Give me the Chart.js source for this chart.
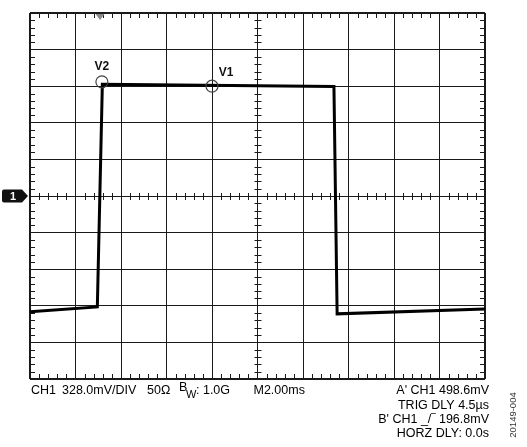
<!DOCTYPE html>
<html>
<head>
<meta charset="utf-8">
<script src="https://cdn.jsdelivr.net/npm/chart.js@4/dist/chart.umd.min.js"></script>
<style>
  html, body { margin: 0; padding: 0; background: #ffffff; }
  #wrap { width: 527px; height: 447px; position: relative; }
</style>
</head>
<body>
<div id="wrap"><canvas id="c" width="527" height="447"></canvas></div>
<script>
// Waveform (x in horizontal divisions, 2 ms/div; y in vertical divisions, 328 mV/div)
const timeDiv = [0, 1.48, 1.59, 6.68, 6.75, 10];
const voltDiv = [-3.16, -3.03, 3.05, 2.99, -3.22, -3.09];

// Cursors
const cursorLabels = ['V2', 'V1'];
const cursorTime = [1.58, 4.0];
const cursorVolt = [3.12, 3.0];

// Trigger position marker (top) and channel ground marker (left)
const triggerTime = 1.54;
const channelLevel = 0;

// Grid definition
const xDivs = [0, 10];
const yDivs = [-5, 5];

// Readout texts
const readoutLeft = ['CH1', '328.0mV/DIV', '50Ω'];
const bwLabel = ['B', 'W', ': 1.0G'];
const timebase = 'M2.00ms';
const readoutRight = ["A' CH1 498.6mV", 'TRIG DLY 4.5µs', "B' CH1 _/‾ 196.8mV", 'HORZ DLY: 0.0s'];
const figureId = '20149-004';

const FONT = '"Liberation Sans", Arial, sans-serif';

const scopePlugin = {
  id: 'scope',
  beforeDatasetsDraw(chart) {
    const ctx = chart.ctx;
    const xs = chart.scales.x, ys = chart.scales.y;
    const a = chart.chartArea;
    const cx = xs.getPixelForValue((xDivs[0] + xDivs[1]) / 2);
    const cy = ys.getPixelForValue((yDivs[0] + yDivs[1]) / 2);
    ctx.save();
    ctx.strokeStyle = '#1a1a1a';
    ctx.lineWidth = 1;
    ctx.beginPath();
    for (let i = 1; i < 50; i++) {
      if (i % 5 === 0) continue;
      const x = Math.round(xs.getPixelForValue(xDivs[0] + i / 5)) + 0.5;
      ctx.moveTo(x, cy - 3); ctx.lineTo(x, cy + 4);
      ctx.moveTo(x, a.top); ctx.lineTo(x, a.top + 5);
      ctx.moveTo(x, a.bottom); ctx.lineTo(x, a.bottom - 5);
      const y = Math.round(ys.getPixelForValue(yDivs[0] + i / 5)) + 0.5;
      ctx.moveTo(cx - 3, y); ctx.lineTo(cx + 4, y);
      ctx.moveTo(a.left, y); ctx.lineTo(a.left + 5, y);
      ctx.moveTo(a.right, y); ctx.lineTo(a.right - 5, y);
    }
    ctx.stroke();
    ctx.restore();
  },
  afterDraw(chart) {
    const ctx = chart.ctx;
    const xs = chart.scales.x, ys = chart.scales.y;
    const a = chart.chartArea;
    ctx.save();
    // trigger marker
    const tx = xs.getPixelForValue(triggerTime);
    ctx.fillStyle = '#8a8a8a';
    ctx.beginPath();
    ctx.moveTo(tx - 4.5, a.top + 1);
    ctx.lineTo(tx + 4.5, a.top + 1);
    ctx.lineTo(tx, a.top + 7);
    ctx.closePath();
    ctx.fill();
    // channel marker
    const my = ys.getPixelForValue(channelLevel);
    ctx.fillStyle = '#111';
    ctx.beginPath();
    ctx.moveTo(4, my - 6.5);
    ctx.lineTo(a.left - 8, my - 6.5);
    ctx.lineTo(a.left - 2, my);
    ctx.lineTo(a.left - 8, my + 6.5);
    ctx.lineTo(4, my + 6.5);
    ctx.quadraticCurveTo(2, my + 6.5, 2, my + 4.5);
    ctx.lineTo(2, my - 4.5);
    ctx.quadraticCurveTo(2, my - 6.5, 4, my - 6.5);
    ctx.closePath();
    ctx.fill();
    ctx.fillStyle = '#fff';
    ctx.font = 'bold 11px ' + FONT;
    ctx.textAlign = 'center';
    ctx.textBaseline = 'middle';
    ctx.fillText('1', 13, my + 0.5);
    // cursor labels
    ctx.fillStyle = '#111';
    ctx.font = 'bold 12px ' + FONT;
    const offs = [[0, -15], [14, -14]];
    cursorLabels.forEach((t, i) => {
      const px = xs.getPixelForValue(cursorTime[i]);
      const py = ys.getPixelForValue(cursorVolt[i]);
      ctx.fillText(t, px + offs[i][0], py + offs[i][1]);
    });
    // readouts
    ctx.fillStyle = '#000';
    ctx.font = '12.5px ' + FONT;
    ctx.textAlign = 'left';
    ctx.textBaseline = 'middle';
    const l1 = a.bottom + 12;
    ctx.fillText(readoutLeft[0], a.left + 1, l1);
    ctx.fillText(readoutLeft[1], a.left + 32, l1);
    ctx.fillText(readoutLeft[2], a.left + 117, l1);
    ctx.fillText(bwLabel[0], a.left + 149, l1 - 3);
    ctx.font = '11px ' + FONT;
    ctx.fillText(bwLabel[1], a.left + 156, l1 + 4);
    ctx.font = '12.5px ' + FONT;
    ctx.fillText(bwLabel[2], a.left + 166, l1);
    ctx.fillText(timebase, xs.getPixelForValue(5) - 4, l1);
    ctx.textAlign = 'right';
    const rx = a.right + 4;
    const ly = [l1, l1 + 14.5, l1 + 29, l1 + 43];
    readoutRight.forEach((t, i) => ctx.fillText(t, rx, ly[i]));
    // figure id rotated
    ctx.save();
    ctx.translate(513, l1 + 24);
    ctx.rotate(-Math.PI / 2);
    ctx.font = '9.5px ' + FONT;
    ctx.fillStyle = '#333';
    ctx.textAlign = 'center';
    ctx.textBaseline = 'middle';
    ctx.fillText(figureId, 0, 0);
    ctx.restore();
    ctx.restore();
  }
};

const edgeWidth = (ctx, lo, hi) => (ctx.tick && (ctx.tick.value === lo || ctx.tick.value === hi)) ? 2 : 1;

new Chart(document.getElementById('c'), {
  type: 'scatter',
  data: {
    datasets: [
      {
        label: 'CH1',
        data: timeDiv.map((t, i) => ({ x: t, y: voltDiv[i] })),
        showLine: true,
        borderColor: '#000',
        borderWidth: 3,
        pointRadius: 0,
        tension: 0,
        borderJoinStyle: 'miter',
        order: 2
      },
      {
        label: 'Cursors',
        data: cursorTime.map((t, i) => ({ x: t, y: cursorVolt[i] })),
        showLine: false,
        pointStyle: 'circle',
        pointRadius: 6,
        pointBorderWidth: 1.2,
        pointBorderColor: '#444',
        pointBackgroundColor: 'rgba(0,0,0,0)',
        order: 1
      }
    ]
  },
  options: {
    responsive: false,
    animation: false,
    devicePixelRatio: 1,
    layout: { padding: { left: 30, top: 13, right: 42, bottom: 68 } },
    plugins: { legend: { display: false }, tooltip: { enabled: false } },
    scales: {
      x: {
        type: 'linear',
        min: xDivs[0], max: xDivs[1],
        ticks: { display: false, stepSize: 1 },
        grid: { color: '#1a1a1a', lineWidth: (c) => edgeWidth(c, xDivs[0], xDivs[1]), drawTicks: false },
        border: { display: false }
      },
      y: {
        type: 'linear',
        min: yDivs[0], max: yDivs[1],
        ticks: { display: false, stepSize: 1 },
        grid: { color: '#1a1a1a', lineWidth: (c) => edgeWidth(c, yDivs[0], yDivs[1]), drawTicks: false },
        border: { display: false }
      }
    }
  },
  plugins: [scopePlugin]
});
</script>
</body>
</html>
